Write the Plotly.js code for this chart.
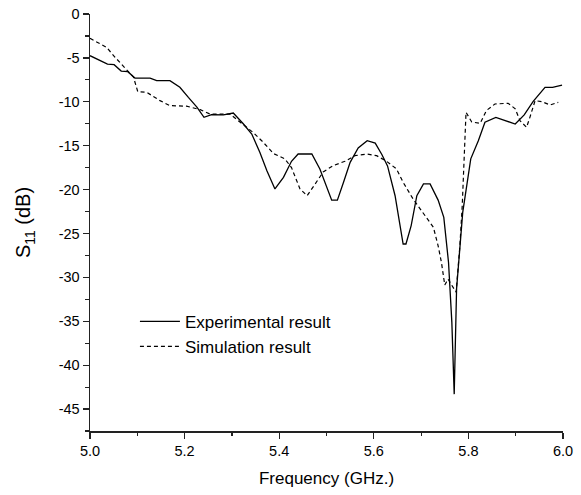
<!DOCTYPE html>
<html>
<head>
<meta charset="utf-8">
<script src="https://cdn.plot.ly/plotly-3.0.1.min.js"></script>
<style>html,body{margin:0;padding:0;background:#fff;}#chart{width:581px;height:495px;}</style>
</head>
<body>
<div id="chart"></div>
<script>
// Experimental result (solid)
const expFreq = [5.000,5.021,5.037,5.051,5.066,5.080,5.095,5.127,5.141,5.169,5.190,5.208,5.226,5.241,5.257,5.282,5.303,5.324,5.342,5.359,5.374,5.391,5.409,5.426,5.440,5.469,5.486,5.511,5.523,5.536,5.550,5.567,5.586,5.603,5.617,5.629,5.645,5.662,5.668,5.679,5.691,5.705,5.719,5.736,5.748,5.758,5.765,5.770,5.775,5.788,5.805,5.821,5.835,5.858,5.899,5.918,5.937,5.962,5.978,5.998];
const expS11  = [-4.75,-5.24,-5.70,-5.77,-6.50,-6.57,-7.30,-7.30,-7.60,-7.60,-8.35,-9.50,-10.60,-11.77,-11.47,-11.50,-11.28,-12.50,-13.67,-15.75,-17.85,-19.93,-18.60,-16.78,-15.95,-15.95,-17.65,-21.20,-21.20,-19.17,-16.90,-15.26,-14.43,-14.70,-16.00,-17.30,-20.70,-26.20,-26.20,-24.10,-20.70,-19.36,-19.36,-21.20,-23.16,-28.30,-35.10,-43.30,-31.30,-22.60,-16.50,-14.43,-12.33,-11.77,-12.53,-11.50,-9.95,-8.35,-8.35,-8.09];
// Simulation result (dashed)
const simFreq = [5.000,5.035,5.053,5.078,5.092,5.101,5.120,5.148,5.169,5.204,5.233,5.254,5.296,5.317,5.345,5.366,5.388,5.412,5.426,5.444,5.459,5.476,5.493,5.514,5.539,5.560,5.585,5.606,5.627,5.648,5.662,5.683,5.712,5.726,5.736,5.743,5.750,5.757,5.774,5.782,5.787,5.789,5.795,5.807,5.825,5.838,5.856,5.884,5.899,5.909,5.923,5.930,5.941,5.955,5.973,5.990];
const simS11  = [-2.77,-3.80,-4.93,-6.45,-7.20,-8.85,-8.92,-9.87,-10.44,-10.50,-10.90,-11.40,-11.40,-12.30,-13.50,-14.60,-15.90,-16.50,-17.50,-19.93,-20.70,-19.36,-18.00,-17.27,-16.78,-16.14,-15.95,-16.14,-16.78,-17.65,-19.17,-21.07,-23.16,-24.30,-26.40,-28.30,-30.87,-30.20,-31.70,-26.40,-21.80,-18.80,-11.20,-12.30,-12.45,-11.00,-10.25,-10.17,-10.80,-12.15,-12.90,-11.77,-9.87,-9.98,-10.36,-10.06];

const seriesNames = ["Experimental result", "Simulation result"];
const xTickVals = [5.0,5.2,5.4,5.6,5.8,6.0];
const xTickText = ["5.0","5.2","5.4","5.6","5.8","6.0"];
const yTickVals = [0,-5,-10,-15,-20,-25,-30,-35,-40,-45];
const yTickText = ["0","-5","-10","-15","-20","-25","-30","-35","-40","-45"];

const font = "Liberation Sans, Arial, sans-serif";
const traces = [
  {x: expFreq, y: expS11, name: seriesNames[0], mode: "lines", line: {color: "#000", width: 1.3}},
  {x: simFreq, y: simS11, name: seriesNames[1], mode: "lines", line: {color: "#000", width: 1.2, dash: "4px,3px"}}
];
const axisCommon = {
  showgrid: false, zeroline: false, showline: true, linecolor: "#222", linewidth: 1.5,
  ticks: "outside", ticklen: 6, tickwidth: 1.3, tickcolor: "#222",
  tickfont: {family: font, size: 14.5, color: "#000"},
  minor: {ticks: "outside", ticklen: 3.5, tickwidth: 1.2, tickcolor: "#222"}
};
const layout = {
  width: 581, height: 495,
  margin: {l: 90, r: 18, t: 14, b: 64},
  paper_bgcolor: "#fff", plot_bgcolor: "#fff",
  font: {family: font, color: "#000"},
  showlegend: true,
  legend: {x: 0.095, y: 0.305, xanchor: "left", yanchor: "top", bgcolor: "rgba(0,0,0,0)",
           itemwidth: 40, font: {family: font, size: 17, color: "#000"}, tracegroupgap: 0},
  xaxis: Object.assign({}, axisCommon, {
    range: [5.0, 6.0], tickvals: xTickVals, ticktext: xTickText,
    minor: Object.assign({}, axisCommon.minor, {dtick: 0.1, tick0: 5.0}),
    title: {text: "Frequency (GHz.)", font: {family: font, size: 17, color: "#000"}, standoff: 14}
  }),
  yaxis: Object.assign({}, axisCommon, {
    range: [-47.5, 0], tickvals: yTickVals, ticktext: yTickText,
    minor: Object.assign({}, axisCommon.minor, {dtick: 2.5, tick0: 0}),
    title: {text: "S<sub>11</sub> (dB)", font: {family: font, size: 20, color: "#000"}, standoff: 22}
  })
};
Plotly.newPlot("chart", traces, layout, {staticPlot: true, displayModeBar: false});
</script>
</body>
</html>
